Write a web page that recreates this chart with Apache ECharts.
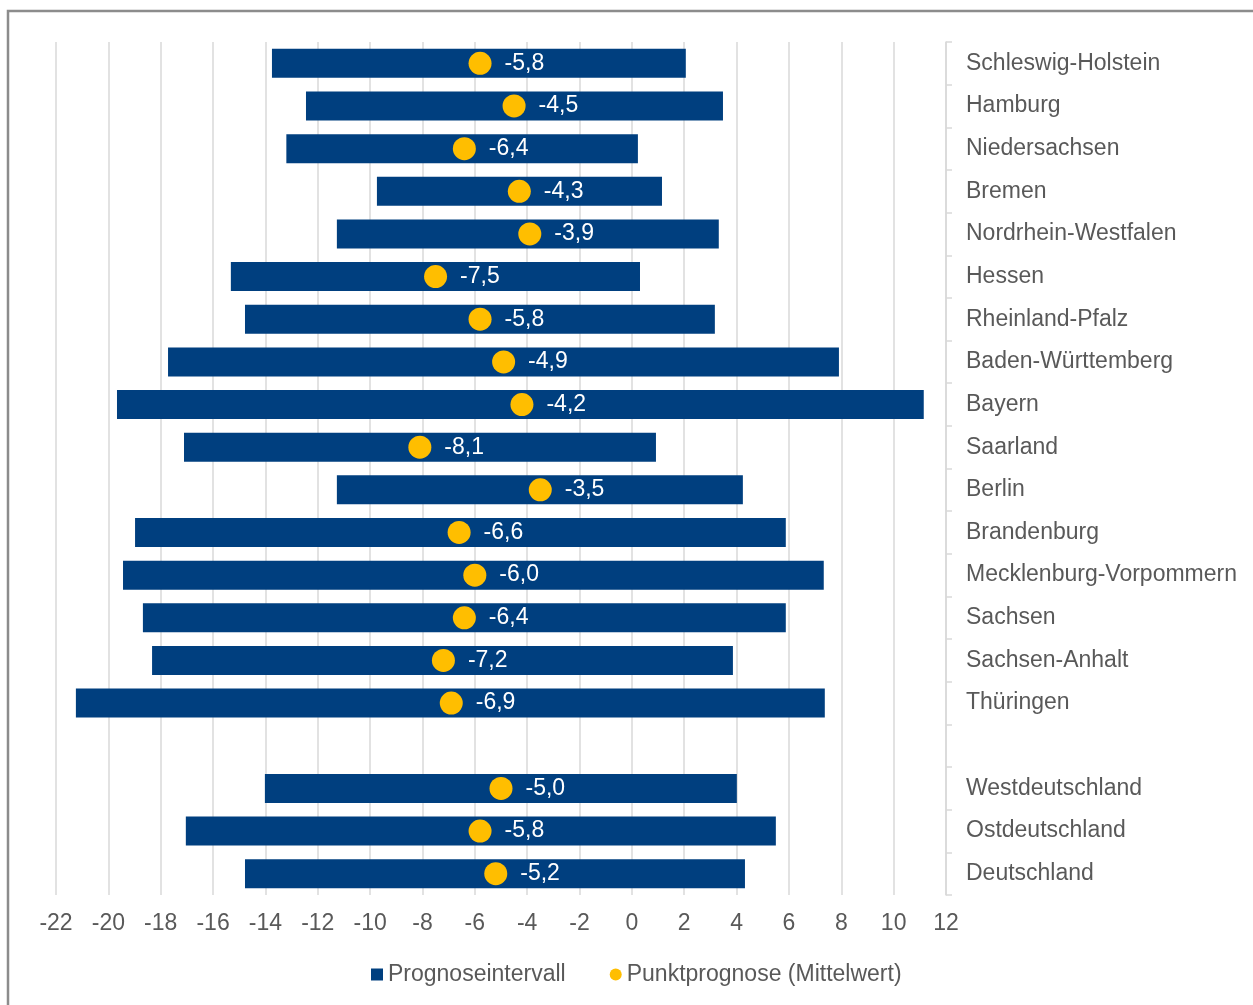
<!DOCTYPE html>
<html><head><meta charset="utf-8">
<script src="https://cdn.jsdelivr.net/npm/echarts@6/dist/echarts.min.js"></script>
<style>html,body{margin:0;padding:0;background:#fff}#c{width:1253px;height:1005px}</style>
</head><body><div id="c"></div>
<script>
const categories = ['Schleswig-Holstein','Hamburg','Niedersachsen','Bremen','Nordrhein-Westfalen','Hessen','Rheinland-Pfalz','Baden-Württemberg','Bayern','Saarland','Berlin','Brandenburg','Mecklenburg-Vorpommern','Sachsen','Sachsen-Anhalt','Thüringen','','Westdeutschland','Ostdeutschland','Deutschland'];
const lowValues  = [-13.75,-12.45,-13.2,-9.74,-11.27,-15.32,-14.78,-17.72,-19.67,-17.11,-11.27,-18.98,-19.44,-18.68,-18.33,-21.24,null,-14.02,-17.04,-14.78];
const highValues = [2.06,3.48,0.23,1.15,3.32,0.31,3.17,7.91,11.15,0.92,4.24,5.88,7.33,5.88,3.86,7.37,null,4.01,5.5,4.32];
const meanValues = [-5.8,-4.5,-6.4,-4.3,-3.9,-7.5,-5.8,-4.9,-4.2,-8.1,-3.5,-6.6,-6.0,-6.4,-7.2,-6.9,null,-5.0,-5.8,-5.2];
const xTicks = {min:-22, max:12, interval:2};

const BLUE = '#003F7F', ORANGE = '#FFBE00', TXT = '#595959', GRID = '#D9D9D9';
const font = 'Liberation Sans, Arial, sans-serif';
const FS = 23;
const intervalData = [];
categories.forEach((c,i)=>{ if(lowValues[i]!==null) intervalData.push([i, lowValues[i], highValues[i]]); });
const chart = echarts.init(document.getElementById('c'));
chart.setOption({
  animation:false,
  textStyle:{fontFamily:font},
  graphic:[{type:'rect', shape:{x:8, y:11, width:1300, height:1100}, style:{fill:'none', stroke:'#8C8C8C', lineWidth:2.5}, z:-1}],
  grid:{left:56, right:307, top:42, bottom:110},
  legend:{
    top:958, left:366, itemWidth:12, itemHeight:12, itemGap:44,
    textStyle:{color:TXT, fontSize:FS, fontFamily:font},
    data:[{name:'Prognoseintervall', icon:'rect'},{name:'Punktprognose (Mittelwert)', icon:'circle'}]
  },
  xAxis:{type:'value', min:xTicks.min, max:xTicks.max, interval:xTicks.interval,
    axisLine:{show:false}, axisTick:{show:false},
    splitLine:{show:true, lineStyle:{color:GRID, width:1.5}},
    axisLabel:{color:TXT, fontSize:FS, margin:17, fontFamily:font}},
  yAxis:{type:'category', data:categories, inverse:true, position:'right',
    axisLine:{show:true, onZero:false, lineStyle:{color:GRID, width:1.5}},
    axisTick:{show:true, length:6, lineStyle:{color:GRID, width:1.5}},
    axisLabel:{color:TXT, fontSize:FS, margin:20, fontFamily:font}},
  series:[
    {name:'Prognoseintervall', type:'custom', itemStyle:{color:BLUE},
      encode:{x:[1,2], y:0},
      data:intervalData,
      renderItem:(params, api)=>{
        const a = api.coord([api.value(1), api.value(0)]);
        const b = api.coord([api.value(2), api.value(0)]);
        const h = 29;
        return {type:'rect', shape:{x:a[0], y:a[1]-h/2, width:b[0]-a[0], height:h}, style:{fill:BLUE}};
      }},
    {name:'Punktprognose (Mittelwert)', type:'scatter', symbol:'circle', symbolSize:23, z:5,
      itemStyle:{color:ORANGE, opacity:1},
      data: meanValues.map((v,i)=> v===null ? null : [v, i]),
      label:{show:true, position:'right', distance:13, color:'#fff', fontSize:FS, fontFamily:font,
        formatter:p=>p.value[0].toFixed(1).replace('.', ',')}}
  ]
});
</script></body></html>
